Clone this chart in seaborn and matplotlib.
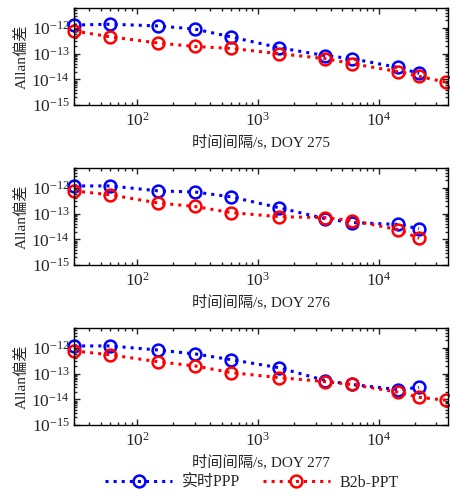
import pandas as pd
import seaborn as sns
import matplotlib
matplotlib.use("Agg")
import matplotlib.pyplot as plt

# Averaging times (s) and Allan deviation
tau = [30, 60, 150, 300, 600, 1500, 3600, 6000, 14400, 21600, 36000]
days = ["275", "276", "277"]
yticks = [1e-15, 1e-14, 1e-13, 1e-12]

ppp_275 = [1.3e-12, 1.4e-12, 1.2e-12, 9.1e-13, 4.5e-13, 1.7e-13, 8.4e-14, 6.4e-14, 2.9e-14, 1.7e-14]
b2b_275 = [7.7e-13, 4.5e-13, 2.6e-13, 1.9e-13, 1.6e-13, 1.0e-13, 6.4e-14, 4.1e-14, 2.0e-14, 1.3e-14, 7.7e-15]

ppp_276 = [1.2e-12, 1.2e-12, 7.7e-13, 7.0e-13, 4.5e-13, 1.7e-13, 6.4e-14, 4.5e-14, 3.8e-14, 2.6e-14]
b2b_276 = [7.7e-13, 5.4e-13, 2.6e-13, 1.9e-13, 1.1e-13, 7.6e-14, 7.0e-14, 5.4e-14, 2.4e-14, 1.1e-14]

ppp_277 = [1.2e-12, 1.2e-12, 8.3e-13, 5.9e-13, 3.5e-13, 1.7e-13, 5.4e-14, 3.8e-14, 2.4e-14, 2.9e-14]
b2b_277 = [7.7e-13, 5.4e-13, 2.9e-13, 2.0e-13, 1.1e-13, 7.0e-14, 4.9e-14, 3.8e-14, 1.9e-14, 1.2e-14, 9.2e-15]

series = [(ppp_275, b2b_275), (ppp_276, b2b_276), (ppp_277, b2b_277)]
labels = ["实时PPP", "B2b-PPT"]
colors = ["#0000ff", "#ff0000"]

sns.set_theme(style="ticks")
plt.rcParams["font.family"] = ["Liberation Serif", "Noto Sans CJK SC"]
plt.rcParams["mathtext.fontset"] = "stix"
plt.rcParams["font.size"] = 11

fig = plt.figure(figsize=(4.5, 4.96), dpi=100)
bottoms = [1 - 105 / 496, 1 - 265 / 496, 1 - 425 / 496]

for day, (ppp, b2b), bottom in zip(days, series, bottoms):
    ax = fig.add_axes([74 / 450, bottom, 374 / 450, 97 / 496])
    for vals, lab, c in zip((ppp, b2b), labels, colors):
        df = pd.DataFrame({"tau": tau[:len(vals)], "allan": vals})
        sns.lineplot(data=df, x="tau", y="allan", ax=ax, color=c, linestyle=":",
                     lw=2.2, marker="o", ms=8.5, mfc="none", mec=c, mew=1.8,
                     label=lab, clip_on=False)
    ax.set_xscale("log")
    ax.set_yscale("log")
    ax.set_yticks(yticks)
    ax.set_xlim(30, 37500)
    ax.set_ylim(1e-15, 6e-12)
    ax.set_xlabel(f"时间间隔/s, DOY {day}", fontsize=11, labelpad=3)
    ax.set_ylabel("Allan偏差", fontsize=11, labelpad=2)
    ax.tick_params(which="both", direction="in", top=True, right=True,
                   labelsize=12.5, width=1.0)
    ax.tick_params(axis="y", pad=3)
    ax.tick_params(axis="x", pad=5)
    ax.tick_params(which="major", length=4)
    ax.tick_params(which="minor", length=2)
    for s in ax.spines.values():
        s.set_linewidth(1.0)
        s.set_color("black")
    if ax.get_legend() is not None:
        ax.get_legend().remove()
    handles = ax.get_lines()[:2]

fig.legend(handles, labels, loc="center", bbox_to_anchor=(0.56, 1 - 483 / 496),
           ncol=2, frameon=False, handlelength=4.2, columnspacing=1.4,
           fontsize=11.5, handletextpad=0.6)

fig.savefig("out.png", dpi=100)
